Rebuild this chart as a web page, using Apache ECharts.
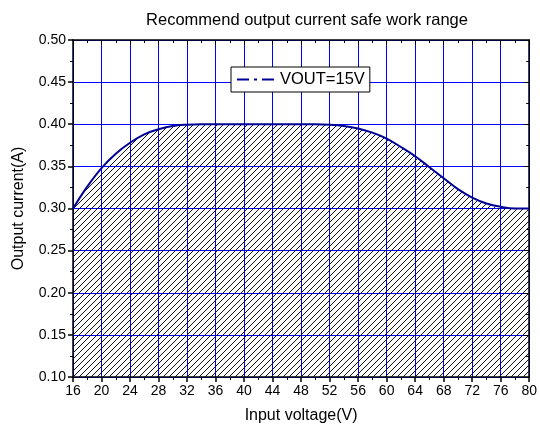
<!DOCTYPE html>
<html>
<head>
<meta charset="utf-8">
<script src="https://cdn.jsdelivr.net/npm/echarts@6/dist/echarts.min.js"></script>
<style>
  html, body { margin: 0; padding: 0; background: #fff; }
  #chart { width: 540px; height: 430px; }
</style>
</head>
<body>
<div id="chart"></div>
<script>
const voltages = [16, 18, 20, 22, 24, 26, 28, 30, 32, 34, 36, 38, 40, 42, 44, 46, 48, 50,
  52, 54, 56, 58, 60, 62, 64, 66, 68, 70, 72, 74, 76, 78, 80];
const currents = [0.300, 0.326, 0.348, 0.365, 0.378, 0.388, 0.394, 0.398, 0.3995, 0.400, 0.400, 0.400,
  0.400, 0.400, 0.400, 0.400, 0.400, 0.400, 0.3995, 0.398, 0.395, 0.390, 0.383, 0.373, 0.362,
  0.349, 0.336, 0.323, 0.313, 0.306, 0.302, 0.300, 0.300];
const seriesName = 'VOUT=15V';

// hatch tile for the safe area
function hatch() {
  const n = 6;
  const c = document.createElement('canvas');
  c.width = n; c.height = n;
  const ctx = c.getContext('2d');
  ctx.strokeStyle = '#111';
  ctx.lineWidth = 1;
  ctx.beginPath();
  ctx.moveTo(-1, n + 1); ctx.lineTo(n + 1, -1);
  ctx.moveTo(-1, 1); ctx.lineTo(1, -1);
  ctx.moveTo(n - 1, n + 1); ctx.lineTo(n + 1, n - 1);
  ctx.stroke();
  return c;
}

const font = 'Liberation Sans, Arial, sans-serif';
const chart = echarts.init(document.getElementById('chart'));
chart.setOption({
  animation: false,
  title: {
    text: 'Recommend output current safe work range',
    left: 302, top: 7, textAlign: 'center',
    textStyle: { fontFamily: font, fontSize: 16.5, fontWeight: 'normal', color: '#000' }
  },
  legend: {
    left: 231, top: 67,
    data: [seriesName],
    backgroundColor: '#fff',
    borderColor: '#000',
    borderWidth: 1,
    borderRadius: 0,
    padding: [4, 5, 4, 5],
    itemWidth: 38,
    itemHeight: 14,
    itemGap: 5,
    itemStyle: { opacity: 0 },
    lineStyle: { type: [12, 5, 3, 5], width: 2, color: '#000096', opacity: 1 },
    textStyle: { fontFamily: font, fontSize: 16.5, color: '#000' }
  },
  grid: { left: 73, right: 9, top: 40, bottom: 53 },
  xAxis: [{
    type: 'value', min: 16, max: 80, interval: 4,
    name: 'Input voltage(V)', nameLocation: 'middle', nameGap: 31,
    nameTextStyle: { fontFamily: font, fontSize: 16, color: '#000' },
    axisLine: { lineStyle: { color: '#000', width: 1.5 } },
    axisTick: { length: 5, lineStyle: { color: '#000', width: 1.5 } },
    minorTick: { show: true, splitNumber: 2, length: 3, lineStyle: { color: '#000', width: 1 } },
    axisLabel: { fontFamily: font, fontSize: 14, color: '#000', margin: 7 },
    splitLine: { show: true, lineStyle: { color: '#0000ff', width: 1 } }
  }, {
    type: 'value', position: 'top', min: 16, max: 80, interval: 4,
    axisLine: { show: true, lineStyle: { color: '#000', width: 1.5 } },
    axisTick: { show: true, inside: true, length: 5, lineStyle: { color: '#000' } },
    minorTick: { show: true, splitNumber: 2, length: 3, lineStyle: { color: '#000' } },
    axisLabel: { show: false },
    splitLine: { show: false }
  }],
  yAxis: [{
    type: 'value', min: 0.1, max: 0.5, interval: 0.05,
    name: 'Output current(A)', nameLocation: 'middle', nameGap: 46,
    nameTextStyle: { fontFamily: font, fontSize: 16, color: '#000' },
    axisLine: { show: true, lineStyle: { color: '#000', width: 1.5 } },
    axisTick: { show: true, length: 5, lineStyle: { color: '#000', width: 1.5 } },
    minorTick: { show: true, splitNumber: 2, length: 3, lineStyle: { color: '#000', width: 1 } },
    axisLabel: { fontFamily: font, fontSize: 14, color: '#000', margin: 7,
      formatter: v => v.toFixed(2) },
    splitLine: { show: true, lineStyle: { color: '#0000ff', width: 1 } }
  }, {
    type: 'value', position: 'right', min: 0.1, max: 0.5, interval: 0.05,
    axisLine: { show: true, lineStyle: { color: '#000', width: 1.5 } },
    axisTick: { show: true, inside: true, length: 5, lineStyle: { color: '#000' } },
    minorTick: { show: true, splitNumber: 2, length: 3, lineStyle: { color: '#000' } },
    axisLabel: { show: false },
    splitLine: { show: false }
  }],
  series: [{
    name: seriesName,
    type: 'line',
    smooth: 0.4,
    symbol: 'none',
    data: voltages.map((v, i) => [v, currents[i]]),
    lineStyle: { color: '#000096', width: 2 },
    itemStyle: { color: '#000096' },
    areaStyle: { origin: 'start', color: { image: hatch(), repeat: 'repeat' }, opacity: 1 }
  }]
});
</script>
</body>
</html>
